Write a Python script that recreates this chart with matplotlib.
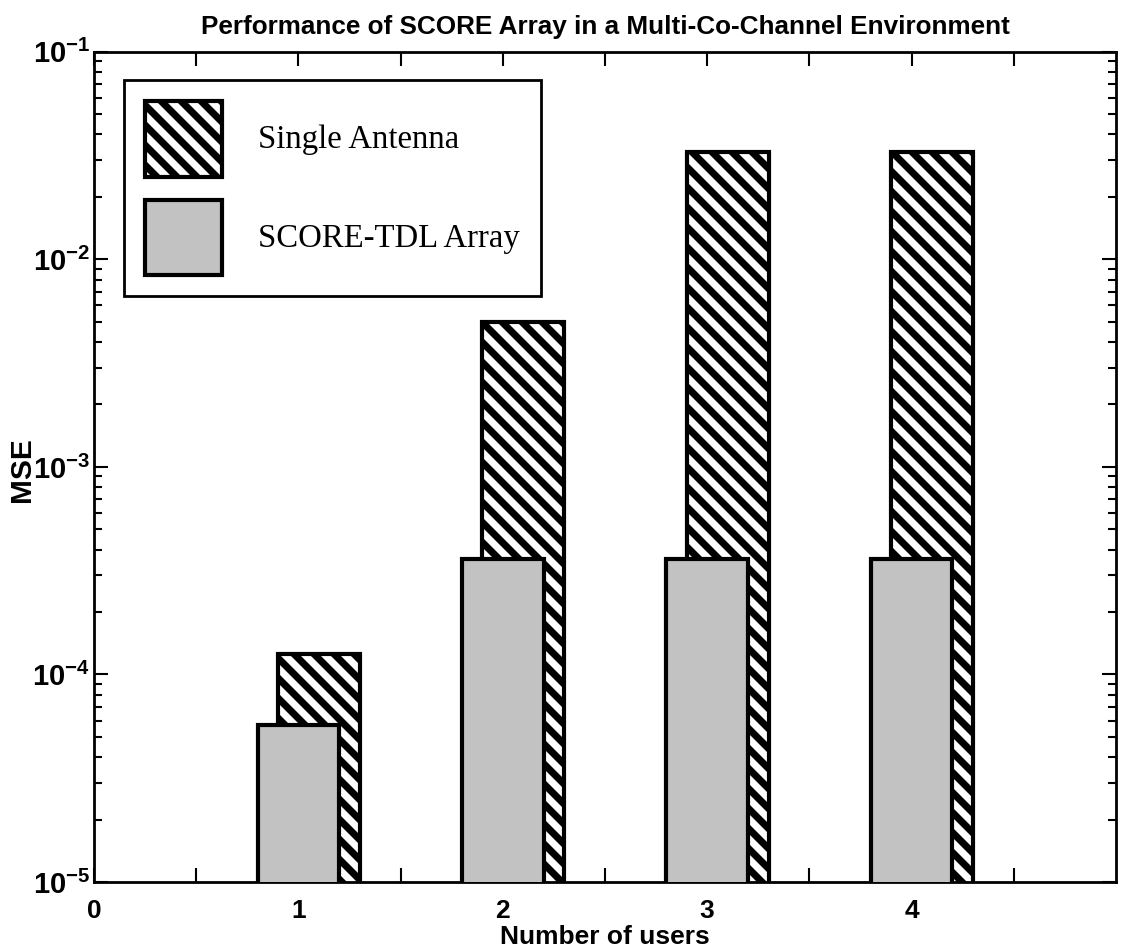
import matplotlib
matplotlib.use('Agg')
import matplotlib.pyplot as plt
from matplotlib.ticker import FixedLocator, LogLocator, NullFormatter, FuncFormatter
import numpy as np

users = [1, 2, 3, 4]
single_antenna = [1.25e-4, 5.0e-3, 3.3e-2, 3.3e-2]
score_tdl = [5.7e-5, 3.6e-4, 3.6e-4, 3.6e-4]
tick_labels = ['0', '1', '2', '3', '4']

# drawn at 60 dpi so that the hatch stripes come out as wide as in the scan
DPI = 60
S = 100 / DPI

plt.rcParams['hatch.linewidth'] = 8.5
plt.rcParams['mathtext.fontset'] = 'custom'
plt.rcParams['mathtext.rm'] = 'Liberation Sans:bold'
plt.rcParams['mathtext.bf'] = 'Liberation Sans:bold'
plt.rcParams['mathtext.it'] = 'Liberation Sans:bold'
sans = ['Liberation Sans', 'DejaVu Sans']

fig = plt.figure(figsize=(1121 / DPI, 952 / DPI), dpi=DPI)
ax = fig.add_axes([0.0839, 0.0735, 0.9116, 0.872])

x = np.array(users, dtype=float)
ax.bar(x + 0.1, single_antenna, width=0.4, color='white',
       edgecolor='black', linewidth=3 * S, hatch='\\', label='Single Antenna', zorder=2)
ax.bar(x, score_tdl, width=0.4, color='#c2c2c2',
       edgecolor='black', linewidth=3 * S, label='SCORE-TDL Array', zorder=3)

ax.set_yscale('log')
ax.set_ylim(1e-5, 1e-1)
ax.set_xlim(0, 5)
ax.xaxis.set_major_locator(FixedLocator([0, 1, 2, 3, 4]))
ax.set_xticklabels(tick_labels)
ax.xaxis.set_minor_locator(FixedLocator([0.5, 1.5, 2.5, 3.5, 4.5]))
ax.yaxis.set_major_locator(LogLocator(base=10, numticks=10))
ax.yaxis.set_major_formatter(FuncFormatter(
    lambda v, p: r'$\mathbf{10^{%d}}$' % int(round(np.log10(v)))))
ax.yaxis.set_minor_locator(LogLocator(base=10, subs=np.arange(2, 10), numticks=10))
ax.yaxis.set_minor_formatter(NullFormatter())
ax.tick_params(which='both', direction='in', top=True, right=True, width=1.5 * S)
ax.tick_params(which='major', length=10 * S)
ax.tick_params(axis='x', which='major', pad=12 * S, labelsize=19 * S)
ax.tick_params(axis='y', which='major', pad=3 * S, labelsize=21 * S)
ax.tick_params(which='minor', length=6 * S)
ax.tick_params(axis='x', which='minor', length=10 * S)
for lab in ax.get_xticklabels():
    lab.set_fontfamily(sans)
    lab.set_fontweight('bold')
for s in ax.spines.values():
    s.set_linewidth(2 * S)

ax.set_title('Performance of SCORE Array in a Multi-Co-Channel Environment',
             fontsize=18.8 * S, fontweight='bold', family=sans, pad=13 * S)
ax.set_xlabel('Number of users', fontsize=19 * S, fontweight='bold', family=sans,
              labelpad=2 * S)
fig.text(0.0195, 0.507, 'MSE', rotation=90, fontsize=21.5 * S, fontweight='bold',
         family=sans, ha='center', va='center')

leg = ax.legend(loc='upper left', bbox_to_anchor=(0.029, 0.966), borderaxespad=0,
                fancybox=False, edgecolor='black', framealpha=1,
                handlelength=2.35, handleheight=3.15,
                borderpad=0.65, labelspacing=0.7, handletextpad=1.1,
                prop={'family': 'Liberation Serif', 'size': 23.6 * S})
leg.get_frame().set_linewidth(2 * S)

fig.savefig('out.png', dpi=DPI)
